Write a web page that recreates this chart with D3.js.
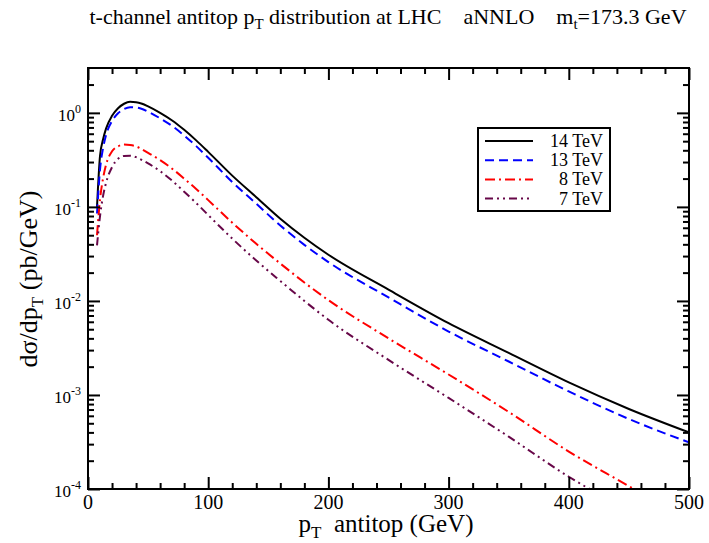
<!DOCTYPE html>
<html>
<head>
<meta charset="utf-8">
<script src="https://cdn.jsdelivr.net/npm/d3@7"></script>
<style>
  html, body { margin: 0; padding: 0; background: #fff; }
  svg { display: block; font-family: "Liberation Serif", "Times New Roman", serif; }
</style>
</head>
<body>
<svg id="chart" width="709" height="543"></svg>
<script>
// Transverse-momentum grid (GeV) shared by all series
const pt = [7.5, 10, 12.5, 15, 20, 25, 30, 35, 40, 45, 50, 60, 70, 80, 90, 100, 120, 140, 160, 180, 200, 250, 300, 350, 400, 450, 500];

// dσ/dpT (pb/GeV) per collider energy
const tev14 = [0.10, 0.35, 0.52, 0.68, 0.93, 1.12, 1.25, 1.31, 1.30, 1.25, 1.17, 1.00, 0.83, 0.66, 0.51, 0.385, 0.215, 0.127, 0.075, 0.047, 0.031, 0.0132, 0.0058, 0.0028, 0.00136, 0.00071, 0.00040];
const tev13 = [0.085, 0.25, 0.42, 0.58, 0.82, 0.99, 1.10, 1.15, 1.14, 1.10, 1.03, 0.875, 0.725, 0.575, 0.443, 0.333, 0.184, 0.108, 0.0634, 0.0395, 0.0259, 0.0109, 0.00473, 0.00227, 0.00109, 0.000555, 0.000313];
const tev8  = [0.05, 0.12, 0.20, 0.28, 0.39, 0.44, 0.46, 0.455, 0.44, 0.41, 0.375, 0.315, 0.255, 0.20, 0.155, 0.118, 0.068, 0.0405, 0.0250, 0.0157, 0.0102, 0.0040, 0.00165, 0.00066, 0.00025, 0.000107, 0.000045];
const tev7  = [0.039, 0.08, 0.13, 0.18, 0.265, 0.325, 0.348, 0.35, 0.338, 0.315, 0.29, 0.24, 0.19, 0.145, 0.11, 0.082, 0.046, 0.0269, 0.0163, 0.0100, 0.0063, 0.00236, 0.00093, 0.00036, 0.000135, 0.000058, 0.000024];

const seriesNames = ["14 TeV", "13 TeV", "8 TeV", "7 TeV"];
const seriesColors = ["#000000", "#0000ff", "#ff0000", "#670748"];
const seriesDashes = [null, "9,5", "10,4,2,4", "8,4,2,4,2,4"];

// Axis ticks
const xMajorTicks = [0, 100, 200, 300, 400, 500];
const xMinorTicks = [20, 40, 60, 80, 120, 140, 160, 180, 220, 240, 260, 280, 320, 340, 360, 380, 420, 440, 460, 480];
const yMajorExponents = [-4, -3, -2, -1, 0];

const svg = d3.select("#chart");
const plot = { left: 88, right: 689, top: 68, bottom: 489 };

const x = d3.scaleLinear().domain([0, 500]).range([plot.left, plot.right]);
const y = d3.scaleLog().domain([1e-4, 3]).range([plot.bottom, plot.top]);

const yMajorTicks = yMajorExponents.map(e => Math.pow(10, e));
const yMinorTicks = [];
yMajorExponents.forEach(e => {
  for (let m = 2; m <= 9; m++) {
    const v = m * Math.pow(10, e);
    if (v < 3) yMinorTicks.push(v);
  }
});

// Clip curves to the plotting frame
svg.append("defs").append("clipPath").attr("id", "frame")
  .append("rect")
  .attr("x", plot.left).attr("y", plot.top)
  .attr("width", plot.right - plot.left).attr("height", plot.bottom - plot.top);

// Curves
const line = d3.line()
  .x(d => x(d[0]))
  .y(d => y(d[1]))
  .curve(d3.curveMonotoneX);

const allSeries = [tev14, tev13, tev8, tev7];
const curves = svg.append("g").attr("clip-path", "url(#frame)");
allSeries.forEach((vals, i) => {
  curves.append("path")
    .datum(pt.map((p, j) => [p, vals[j]]))
    .attr("d", line)
    .attr("fill", "none")
    .attr("stroke", seriesColors[i])
    .attr("stroke-width", 2)
    .attr("stroke-dasharray", seriesDashes[i]);
});

// Axes: ticks point inward on all four sides
function tickAxis(axisFn, scale, values, size, translate) {
  const g = svg.append("g")
    .attr("transform", translate)
    .call(axisFn(scale).tickValues(values).tickSize(size).tickFormat(""));
  g.select(".domain").remove();
  g.selectAll(".tick line").attr("stroke", "#000").attr("stroke-width", 2);
  return g;
}
tickAxis(d3.axisBottom, x, xMajorTicks, -12, `translate(0,${plot.bottom})`);
tickAxis(d3.axisBottom, x, xMinorTicks, -6, `translate(0,${plot.bottom})`);
tickAxis(d3.axisTop, x, xMajorTicks, -12, `translate(0,${plot.top})`);
tickAxis(d3.axisTop, x, xMinorTicks, -6, `translate(0,${plot.top})`);
tickAxis(d3.axisLeft, y, yMajorTicks, -12, `translate(${plot.left},0)`);
tickAxis(d3.axisLeft, y, yMinorTicks, -6, `translate(${plot.left},0)`);
tickAxis(d3.axisRight, y, yMajorTicks, -12, `translate(${plot.right},0)`);
tickAxis(d3.axisRight, y, yMinorTicks, -6, `translate(${plot.right},0)`);

// Frame
svg.append("rect")
  .attr("x", plot.left).attr("y", plot.top)
  .attr("width", plot.right - plot.left).attr("height", plot.bottom - plot.top)
  .attr("fill", "none").attr("stroke", "#000").attr("stroke-width", 2);

// X tick labels
svg.append("g").selectAll("text")
  .data(xMajorTicks).join("text")
  .attr("x", d => x(d)).attr("y", plot.bottom + 20)
  .attr("text-anchor", "middle")
  .attr("font-size", 20)
  .text(d => d);

// Y tick labels: 10 with a raised exponent
const yLab = svg.append("g").selectAll("text")
  .data(yMajorExponents).join("text")
  .attr("x", 81).attr("y", e => y(Math.pow(10, e)) + 8)
  .attr("font-size", 17)
  .attr("text-anchor", "end");
yLab.append("tspan").text("10");
yLab.append("tspan").attr("dy", -8).attr("font-size", 12).text(e => e);

// Axis titles
const xt = svg.append("text")
  .attr("x", 386).attr("y", 532)
  .attr("text-anchor", "middle").attr("font-size", 25)
  .style("white-space", "pre");
xt.append("tspan").text("p");
xt.append("tspan").attr("dy", 6).attr("font-size", 17).text("T");
xt.append("tspan").attr("dy", -6).text("  antitop (GeV)");

const yt = svg.append("text")
  .attr("transform", `translate(37,279) rotate(-90)`)
  .attr("text-anchor", "middle").attr("font-size", 26);
yt.append("tspan").text("dσ/dp");
yt.append("tspan").attr("dy", 6).attr("font-size", 17).text("T");
yt.append("tspan").attr("dy", -6).text(" (pb/GeV)");

// Title
const title = svg.append("text")
  .attr("x", 388).attr("y", 24)
  .attr("text-anchor", "middle").attr("font-size", 22)
  .style("white-space", "pre");
title.append("tspan").text("t-channel antitop p");
title.append("tspan").attr("dy", 5).attr("font-size", 15).text("T");
title.append("tspan").attr("dy", -5).text(" distribution at LHC    aNNLO    m");
title.append("tspan").attr("dy", 5).attr("font-size", 15).text("t");
title.append("tspan").attr("dy", -5).text("=173.3 GeV");

// Legend
const legend = svg.append("g");
legend.append("rect")
  .attr("x", 478).attr("y", 128).attr("width", 132).attr("height", 83)
  .attr("fill", "#fff").attr("stroke", "#000").attr("stroke-width", 2);
seriesNames.forEach((name, i) => {
  const ly = 141 + i * 19.2;
  legend.append("line")
    .attr("x1", 485).attr("x2", 533).attr("y1", ly).attr("y2", ly)
    .attr("stroke", seriesColors[i]).attr("stroke-width", 2)
    .attr("stroke-dasharray", seriesDashes[i]);
  legend.append("text")
    .attr("x", 603).attr("y", ly + 6)
    .attr("text-anchor", "end").attr("font-size", 18)
    .text(name);
});
</script>
</body>
</html>
